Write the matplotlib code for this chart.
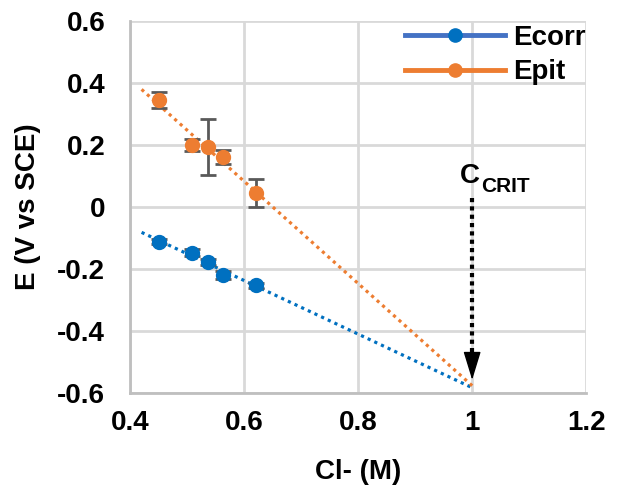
import numpy as np
import matplotlib.pyplot as plt

plt.rcParams['font.family'] = ['Liberation Sans', 'DejaVu Sans']
plt.rcParams['font.weight'] = 'bold'

cl = [0.45, 0.508, 0.536, 0.563, 0.621]
ecorr = [-0.112, -0.147, -0.178, -0.219, -0.252]
ecorr_err = [0.008, 0.01, 0.01, 0.012, 0.008]
epit = [0.345, 0.2, 0.193, 0.162, 0.046]
epit_err = [0.025, 0.02, 0.09, 0.022, 0.045]

fig, ax = plt.subplots(figsize=(6.17, 4.93), dpi=100)
fig.subplots_adjust(left=0.211, right=0.95, top=0.957, bottom=0.203)

xfit = np.array([0.42, 1.0])
for y, c in [(ecorr, '#0070C0'), (epit, '#ED7D31')]:
    k, b = np.polyfit(cl, y, 1)
    ax.plot(xfit, k * xfit + b, color=c, lw=2.3, ls=(0, (1, 1.3)), zorder=2)

ax.errorbar(cl, ecorr, yerr=ecorr_err, fmt='none', ecolor='#595959', capsize=6, lw=2, capthick=2, zorder=3)
ax.errorbar(cl, epit, yerr=epit_err, fmt='none', ecolor='#595959', capsize=6, lw=2, capthick=2, zorder=3)
ax.plot(cl, ecorr, 'o', color='#0070C0', ms=10, zorder=4)
ax.plot(cl, epit, 'o', color='#ED7D31', ms=10, zorder=4)

# legend proxies
ax.plot([], [], '-o', color='#4472C4', mfc='#0070C0', mec='#0070C0', lw=3.5, ms=9.5, label='Ecorr')
ax.plot([], [], '-o', color='#ED7D31', lw=3.5, ms=9.5, label='Epit')
ax.legend(loc='upper right', frameon=False, fontsize=20, handlelength=3.6,
          bbox_to_anchor=(586 / 617, 1 - 25 / 493), bbox_transform=fig.transFigure,
          borderaxespad=0, borderpad=0, handletextpad=0.3, labelspacing=0.3)

# critical concentration arrow
ax.plot([1.0, 1.0], [0.029, -0.47], color='black', lw=3, ls=(0, (1, 1)), zorder=5)
ax.annotate('', xy=(1.0, -0.558), xytext=(1.0, -0.47),
            arrowprops=dict(arrowstyle='-|>,head_width=0.55,head_length=1.8',
                            lw=1, color='black', shrinkA=0, shrinkB=0), zorder=5)
ax.text(0.979, 0.077, 'C', ha='left', va='baseline', fontsize=20, fontweight='bold')
ax.text(1.0165, 0.048, 'CRIT', ha='left', va='baseline', fontsize=15, fontweight='bold')

ax.set_xlim(0.4, 1.2)
ax.set_ylim(-0.6, 0.6)
ax.set_xticks([0.4, 0.6, 0.8, 1.0, 1.2])
ax.set_xticklabels(['0.4', '0.6', '0.8', '1', '1.2'])
ax.set_yticks([-0.6, -0.4, -0.2, 0, 0.2, 0.4, 0.6])
ax.set_yticklabels(['-0.6', '-0.4', '-0.2', '0', '0.2', '0.4', '0.6'])
ax.tick_params(labelsize=20, length=0)
ax.tick_params(axis='x', pad=12)
ax.tick_params(axis='y', pad=18)
ax.grid(True, color='#d9d9d9', lw=2)
ax.set_axisbelow(True)
for s in ax.spines.values():
    s.set_visible(False)
for side in ['left', 'bottom']:
    ax.spines[side].set_visible(True)
    ax.spines[side].set_color('#bfbfbf')
    ax.spines[side].set_linewidth(2)

ax.set_xlabel('Cl- (M)', fontsize=20, fontweight='bold')
ax.set_ylabel('E (V vs SCE)', fontsize=20, fontweight='bold')
ax.xaxis.set_label_coords(0.5, -0.178)
ax.yaxis.set_label_coords(-0.195, 0.5)

fig.savefig('out.png')
